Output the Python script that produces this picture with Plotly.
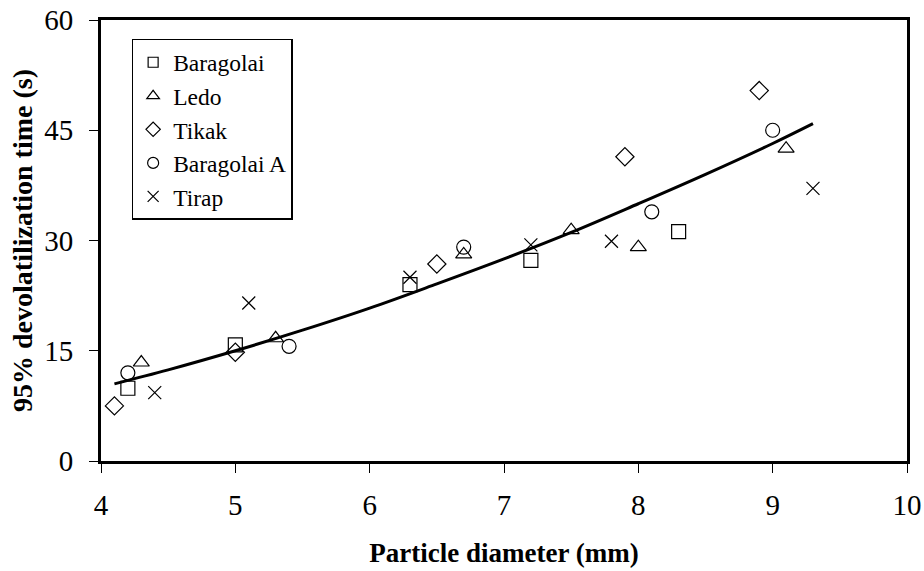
import plotly.graph_objects as go

# Data
bar_x = [4.2, 5.0, 6.3, 7.2, 8.3]
bar_y = [9.9, 15.8, 24.0, 27.3, 31.2]

ledo_x = [4.3, 5.3, 6.7, 7.5, 8.0, 9.1]
ledo_y = [13.4, 16.7, 28.1, 31.4, 29.1, 42.5]

tikak_x = [4.1, 5.0, 6.5, 7.9, 8.9]
tikak_y = [7.5, 14.8, 26.8, 41.4, 50.4]

bara_x = [4.2, 5.4, 6.7, 8.1, 9.0]
bara_y = [12.0, 15.6, 29.1, 33.9, 45.0]

tirap_x = [4.4, 5.1, 6.3, 7.2, 7.8, 9.3]
tirap_y = [9.3, 21.5, 25.0, 29.4, 29.9, 37.1]

# Trend curve
fit_x = [4.1, 4.5, 5.0, 5.5, 6.0, 6.5, 7.0, 7.5, 8.0, 8.5, 9.0, 9.3]
fit_y = [10.5, 12.4, 15.0, 17.8, 20.8, 24.1, 27.5, 31.1, 35.0, 39.0, 43.2, 45.9]

x_ticks = [4, 5, 6, 7, 8, 9, 10]
y_ticks = [0, 15, 30, 45, 60]

font = "Liberation Serif, Times New Roman, serif"

fig = go.Figure()

fig.add_trace(go.Scatter(x=fit_x, y=fit_y, mode="lines", line=dict(color="black", width=3, shape="spline"),
                         showlegend=False, hoverinfo="skip"))

series = [
    ("Baragolai", bar_x, bar_y, "square-open", 14, 10),
    ("Ledo", ledo_x, ledo_y, "triangle-up-open", 14, 11),
    ("Tikak", tikak_x, tikak_y, "diamond-open", 14, 11),
    ("Baragolai A", bara_x, bara_y, "circle-open", 14, 11),
    ("Tirap", tirap_x, tirap_y, "x-thin-open", 13, 11),
]
for name, xs, ys, sym, sz, lsz in series:
    fig.add_trace(go.Scatter(
        x=xs, y=ys, mode="markers", name=name, showlegend=False,
        marker=dict(symbol=sym, size=sz, color="black", line=dict(color="black", width=1.2)),
    ))
for name, xs, ys, sym, sz, lsz in series:
    fig.add_trace(go.Scatter(
        x=[None], y=[None], mode="markers", name=name, showlegend=True,
        marker=dict(symbol=sym, size=lsz, color="black", line=dict(color="black", width=1.2)),
    ))

fig.update_layout(
    width=924, height=571,
    margin=dict(l=101, r=17, t=20, b=110),
    paper_bgcolor="white", plot_bgcolor="white",
    font=dict(family=font, color="black", size=24),
    legend=dict(
        x=0.038, y=0.957, xanchor="left", yanchor="top",
        bgcolor="white", bordercolor="black", borderwidth=1.5,
        font=dict(family=font, size=23.5, color="black"),
        itemsizing="trace", tracegroupgap=0, itemwidth=30,
    ),
    xaxis=dict(
        range=[4, 10], tickvals=x_ticks, ticks="outside", ticklen=9, tickwidth=1, tickcolor="black",
        showline=True, linewidth=3, linecolor="black", mirror=True, showgrid=False, zeroline=False,
        tickfont=dict(family=font, size=29), ticklabelstandoff=7, automargin=False,
        title=dict(text="<b>Particle diameter (mm)</b>", font=dict(family=font, size=27), standoff=24),
    ),
    yaxis=dict(
        range=[0, 60], tickvals=y_ticks, ticks="outside", ticklen=9, tickwidth=1, tickcolor="black",
        showline=True, linewidth=3, linecolor="black", mirror=True, showgrid=False, zeroline=False,
        tickfont=dict(family=font, size=29), ticklabelstandoff=10, automargin=False,
        title=dict(text="<b>95% devolatilization time (s)</b>", font=dict(family=font, size=28), standoff=4),
    ),
)

fig.write_html("out.html", config={"displayModeBar": False},
               post_script="document.body.style.margin='0';")
